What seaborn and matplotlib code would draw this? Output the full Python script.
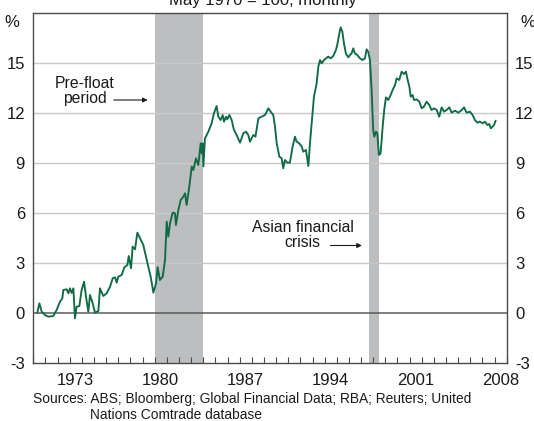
"""Trade-weighted index change chart, RBA style."""

import matplotlib

matplotlib.use("Agg")
import matplotlib.pyplot as plt
import pandas as pd
import seaborn as sns

# Decimal year and percent value
years = [
    1970.33, 1970.50, 1970.69, 1970.96, 1971.24, 1971.65, 1971.92, 1972.20,
    1972.39, 1972.47, 1972.75, 1972.89, 1973.02, 1973.16, 1973.30, 1973.43,
    1973.57, 1973.79, 1973.98, 1974.18, 1974.34, 1974.53, 1974.67, 1974.89,
    1975.08, 1975.36, 1975.49, 1975.77, 1976.04, 1976.32, 1976.54, 1976.73,
    1976.87, 1977.00, 1977.28, 1977.50, 1977.75, 1977.86, 1978.05, 1978.18,
    1978.38, 1978.57, 1978.73, 1978.93, 1979.06, 1979.28, 1979.47, 1979.67,
    1979.89, 1980.11, 1980.24, 1980.43, 1980.66, 1980.85, 1980.99, 1981.12,
    1981.26, 1981.48, 1981.67, 1981.75, 1981.95, 1982.14, 1982.36, 1982.50,
    1982.63, 1982.85, 1983.05, 1983.18, 1983.40, 1983.59, 1983.79, 1983.87,
    1983.95, 1984.01, 1984.14, 1984.42, 1984.69, 1984.88, 1985.10, 1985.24,
    1985.43, 1985.60, 1985.71, 1985.87, 1985.98, 1986.15, 1986.34, 1986.53,
    1986.75, 1987.03, 1987.30, 1987.52, 1987.71, 1987.85, 1988.12, 1988.30,
    1988.54, 1988.81, 1989.09, 1989.36, 1989.55, 1989.77, 1989.91, 1990.05,
    1990.27, 1990.46, 1990.59, 1990.73, 1990.92, 1991.14, 1991.36, 1991.56,
    1991.69, 1991.91, 1992.11, 1992.24, 1992.46, 1992.66, 1992.79, 1992.93,
    1993.12, 1993.34, 1993.48, 1993.62, 1993.75, 1993.95, 1994.11, 1994.30,
    1994.50, 1994.71, 1994.93, 1995.04, 1995.21, 1995.32, 1995.46, 1995.59,
    1995.76, 1995.95, 1996.09, 1996.22, 1996.36, 1996.49, 1996.69, 1996.91,
    1997.13, 1997.32, 1997.46, 1997.59, 1997.73, 1997.87, 1998.00, 1998.09,
    1998.23, 1998.34, 1998.47, 1998.61, 1998.78, 1998.91, 1999.05, 1999.24,
    1999.44, 1999.60, 1999.80, 1999.93, 2000.15, 2000.34, 2000.54, 2000.70,
    2000.81, 2000.98, 2001.09, 2001.25, 2001.36, 2001.58, 2001.80, 2001.99,
    2002.18, 2002.40, 2002.62, 2002.81, 2003.01, 2003.23, 2003.44, 2003.64,
    2003.83, 2004.05, 2004.27, 2004.46, 2004.74, 2005.01, 2005.29, 2005.48,
    2005.70, 2005.97, 2006.19, 2006.38, 2006.58, 2006.80, 2007.02, 2007.21,
    2007.40, 2007.57, 2007.68, 2007.84, 2007.95, 2008.09,
]
values = [
    0.02, 0.58, 0.08, -0.12, -0.22, -0.18, 0.18, 0.68,
    0.88, 1.38, 1.42, 1.18, 1.48, 1.20, 1.48, -0.32,
    0.38, 0.42, 1.38, 1.88, 0.98, 0.08, 1.08, 0.58,
    0.02, 0.12, 1.48, 1.02, 1.18, 1.58, 2.08, 2.14,
    1.82, 2.18, 2.28, 2.74, 2.88, 3.42, 2.68, 3.98,
    3.82, 4.82, 4.58, 4.28, 4.08, 3.38, 2.78, 2.18,
    1.22, 1.78, 2.74, 1.98, 2.18, 3.18, 5.48, 4.58,
    5.38, 6.02, 5.98, 5.28, 6.18, 6.78, 6.98, 7.18,
    6.48, 7.58, 8.78, 8.58, 9.28, 8.88, 10.18, 9.58,
    10.18, 8.80, 10.48, 10.88, 11.38, 11.98, 12.42, 11.78,
    11.58, 11.88, 11.48, 11.78, 11.62, 11.88, 11.58, 10.98,
    10.68, 10.22, 10.78, 10.88, 10.68, 10.28, 10.68, 10.58,
    11.68, 11.78, 11.88, 12.28, 12.08, 11.88, 11.18, 10.18,
    9.38, 9.28, 8.68, 9.18, 9.02, 9.02, 9.98, 10.58,
    10.28, 10.18, 9.98, 9.68, 9.78, 8.82, 10.18, 11.38,
    12.98, 13.78, 14.78, 15.18, 14.98, 15.18, 15.28, 15.38,
    15.28, 15.42, 15.78, 16.08, 16.78, 17.14, 16.88, 16.18,
    15.54, 15.34, 15.48, 15.58, 15.88, 15.58, 15.48, 15.28,
    15.18, 15.28, 15.82, 15.68, 15.18, 13.38, 10.98, 10.58,
    10.88, 10.78, 9.48, 9.58, 11.18, 12.18, 12.94, 12.78,
    13.08, 13.38, 13.68, 14.08, 13.98, 14.48, 14.34, 14.48,
    14.08, 13.58, 12.98, 13.08, 12.78, 12.82, 12.68, 12.28,
    12.38, 12.68, 12.48, 12.18, 12.28, 12.18, 11.78, 12.34,
    12.08, 12.18, 12.34, 12.02, 12.14, 12.02, 12.18, 12.34,
    12.02, 12.08, 11.88, 11.58, 11.42, 11.48, 11.38, 11.48,
    11.28, 11.34, 11.08, 11.18, 11.28, 11.54,
]

shade_periods = [(1980.0, 1984.0), (1997.65, 1998.47)]
label_years = [1973, 1980, 1987, 1994, 2001, 2008]
y_ticks = [-3, 0, 3, 6, 9, 12, 15]

LINE_COLOR = "#0e6b45"
SHADE_COLOR = "#bcbec0"
GRID_COLOR = "#c9c9c9"
AXIS_COLOR = "#4a4a4a"

sns.set_style("white")
plt.rcParams["font.family"] = ["Liberation Sans", "DejaVu Sans"]

df = pd.DataFrame({"year": years, "value": values})

fig = plt.figure(figsize=(5.34, 4.21), dpi=100)
ax = fig.add_axes([0.0624, 0.1378, 0.8865, 0.8313])

for start, end in shade_periods:
    ax.axvspan(start, end, color=SHADE_COLOR, lw=0, zorder=0)

for yv in y_ticks[2:]:
    ax.axhline(yv, color=GRID_COLOR, lw=1.0, zorder=1)
ax.axhline(0, color="#5a5a5a", lw=1.1, zorder=1)

sns.lineplot(data=df, x="year", y="value", color=LINE_COLOR, lw=1.35, ax=ax, zorder=3)

ax.set_xlim(1970, 2009)
ax.set_ylim(-3, 18)
ax.set_xlabel("")
ax.set_ylabel("")

# year ticks inward; labels centred in the year
ax.set_xticks(range(1970, 2010))
ax.set_xticklabels([])
ax.set_xticks([y + 0.5 for y in label_years], minor=True)
ax.set_xticklabels([str(y) for y in label_years], minor=True)
ax.tick_params(axis="x", which="major", direction="in", length=4, width=0.8,
               color=AXIS_COLOR, bottom=True, top=False)
ax.tick_params(axis="x", which="minor", length=0, pad=7, labelsize=12,
               labelcolor="#1a1a1a")

ax.set_yticks(y_ticks)
ax.set_yticklabels([str(v) for v in y_ticks])
ax.tick_params(axis="y", length=0, pad=6, labelsize=12, labelcolor="#1a1a1a",
               labelleft=True, labelright=True)

for side in ["left", "right", "bottom", "top"]:
    ax.spines[side].set_visible(True)
    ax.spines[side].set_color(AXIS_COLOR)
    ax.spines[side].set_linewidth(1.0)

ax.text(-0.045, 17.45, "%", transform=ax.get_yaxis_transform(), ha="center",
        va="center", fontsize=12, color="#1a1a1a")
ax.text(1.045, 17.45, "%", transform=ax.get_yaxis_transform(), ha="center",
        va="center", fontsize=12, color="#1a1a1a")

ax.annotate("", xy=(1979.65, 12.78), xytext=(1976.4, 12.78),
            arrowprops=dict(arrowstyle="-|>", color="#1a1a1a", lw=0.8,
                            mutation_scale=7))
ax.text(1974.25, 13.3, "Pre-float\nperiod", ha="center", va="center",
        fontsize=11.3, color="#1a1a1a", linespacing=1.0)

ax.annotate("", xy=(1997.3, 4.05), xytext=(1994.25, 4.05),
            arrowprops=dict(arrowstyle="-|>", color="#1a1a1a", lw=0.8,
                            mutation_scale=7))
ax.text(1992.2, 4.65, "Asian financial\ncrisis", ha="center", va="center",
        fontsize=11.3, color="#1a1a1a", linespacing=1.0)

fig.text(0.493, 1 - 5 / 421, "May 1970 = 100, monthly", ha="center",
         va="baseline", fontsize=12, color="#1a1a1a")
fig.text(33 / 534, 1 - 403 / 421,
         "Sources: ABS; Bloomberg; Global Financial Data; RBA; Reuters; United",
         ha="left", va="baseline", fontsize=9.9, color="#1a1a1a")
fig.text(90 / 534, 1 - 419 / 421, "Nations Comtrade database", ha="left",
         va="baseline", fontsize=9.9, color="#1a1a1a")

fig.savefig("out.png", dpi=100)
plt.close(fig)
